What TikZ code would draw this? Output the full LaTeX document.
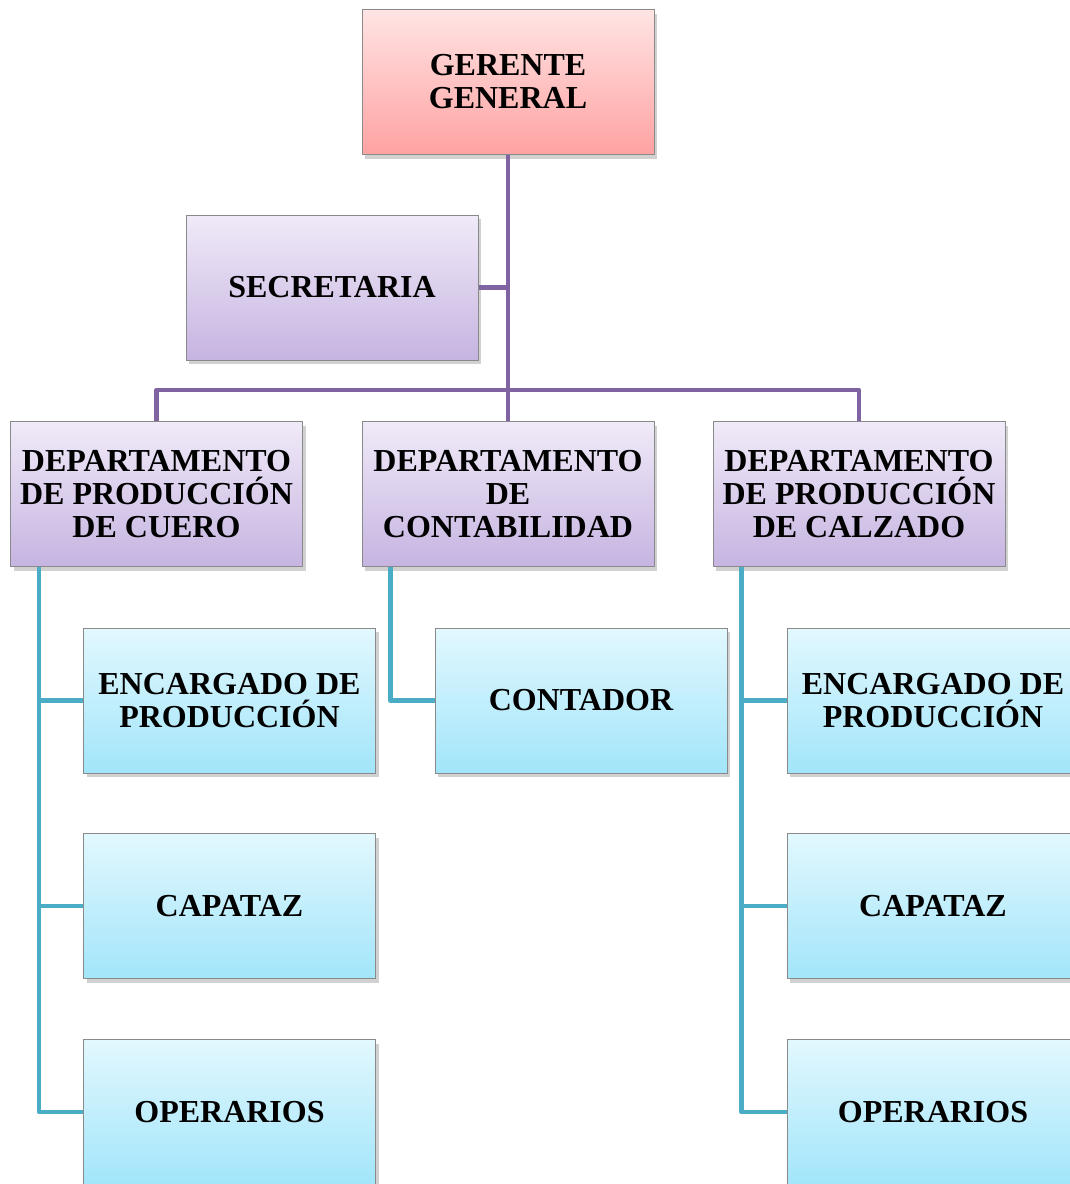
\documentclass[tikz,border=0pt]{standalone}
\usepackage{fontspec}
\setmainfont{Liberation Serif}
\usetikzlibrary{shadows}
\definecolor{pinktop}{HTML}{FFE4E4}
\definecolor{pinkbot}{HTML}{FFA2A2}
\definecolor{purtop}{HTML}{F0EAF8}
\definecolor{purbot}{HTML}{C6B4E1}
\definecolor{blutop}{HTML}{E2F8FE}
\definecolor{blubot}{HTML}{A2E5FA}
\definecolor{purline}{HTML}{8064A2}
\definecolor{bluline}{HTML}{4BACC6}
\definecolor{boxedge}{HTML}{8A8A8A}
\tikzset{
  box/.style={draw=boxedge, line width=1pt, minimum width=292pt, minimum height=145pt,
    inner sep=0pt, align=center, font=\fontsize{32}{33}\selectfont\bfseries,
    drop shadow={shadow xshift=3pt, shadow yshift=-4pt, opacity=.3, fill=black!60}},
  pinkbox/.style={box, top color=pinktop, bottom color=pinkbot},
  purbox/.style={box, top color=purtop, bottom color=purbot},
  blubox/.style={box, top color=blutop, bottom color=blubot},
  purconn/.style={draw=purline, line width=4.5pt, line join=round},
  bluconn/.style={draw=bluline, line width=4.5pt, line join=round},
}
\begin{document}
\begin{tikzpicture}[x=1pt,y=-1pt]
\useasboundingbox (0,0) rectangle (1069,1184);
\coordinate (bus) at (0,390);
\node[pinkbox] (gg) at (508,82) {GERENTE\\GENERAL};
\node[purbox] (sec) at (332,287.5) {SECRETARIA};
\node[purbox] (d1) at (156.5,494) {DEPARTAMENTO\\DE PRODUCCIÓN\\DE CUERO};
\node[purbox] (d2) at (508,494) {DEPARTAMENTO\\DE\\CONTABILIDAD};
\node[purbox] (d3) at (859,494) {DEPARTAMENTO\\DE PRODUCCIÓN\\DE CALZADO};
\node[blubox] (e1) at (229.5,700.5) {ENCARGADO DE\\PRODUCCIÓN};
\node[blubox] (c1) at (229.5,906) {CAPATAZ};
\node[blubox] (o1) at (229.5,1112) {OPERARIOS};
\node[blubox] (ct) at (581,700.5) {CONTADOR};
\node[blubox] (e3) at (933,700.5) {ENCARGADO DE\\PRODUCCIÓN};
\node[blubox] (c3) at (933,906) {CAPATAZ};
\node[blubox] (o3) at (933,1112) {OPERARIOS};
\coordinate (j1) at (gg.south |- sec.east);
\coordinate (b1) at (d1.north |- bus);
\coordinate (b3) at (d3.north |- bus);
\coordinate (s1) at ([xshift=29pt]d1.south west);
\coordinate (s2) at ([xshift=29pt]d2.south west);
\coordinate (s3) at ([xshift=29pt]d3.south west);
\draw[purconn] (gg.south) -- (d2.north);
\draw[purconn] (sec.east) -- (j1);
\draw[purconn] (d1.north) -- (b1) -- (b3) -- (d3.north);
\draw[bluconn] (s1) |- (o1.west);
\draw[bluconn] (s1 |- e1.west) -- (e1.west);
\draw[bluconn] (s1 |- c1.west) -- (c1.west);
\draw[bluconn] (s2) |- (ct.west);
\draw[bluconn] (s3) |- (o3.west);
\draw[bluconn] (s3 |- e3.west) -- (e3.west);
\draw[bluconn] (s3 |- c3.west) -- (c3.west);
\end{tikzpicture}
\end{document}
